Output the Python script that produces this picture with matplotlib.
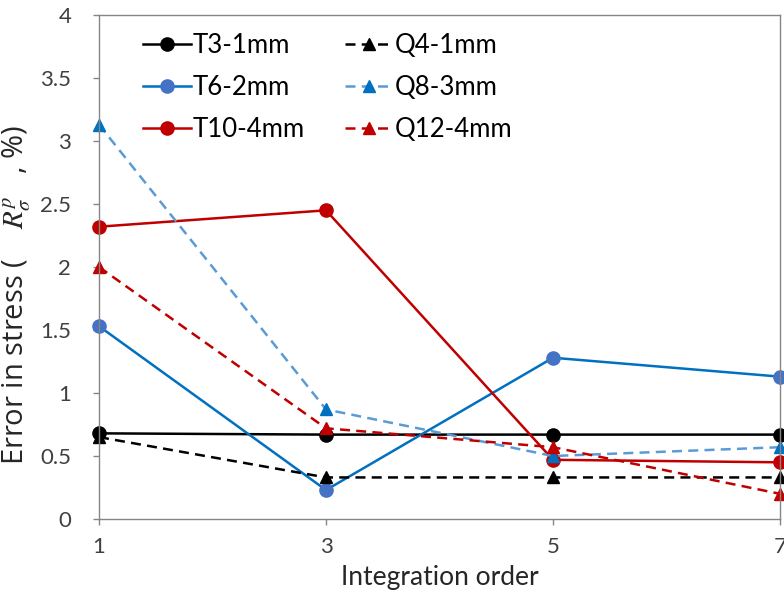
import matplotlib
matplotlib.use("Agg")
import matplotlib.pyplot as plt

# integration order on x
orders = [1, 3, 5, 7]

t3_1mm = [0.68, 0.67, 0.67, 0.67]
q4_1mm = [0.65, 0.33, 0.33, 0.33]
t6_2mm = [1.53, 0.23, 1.28, 1.13]
q8_3mm = [3.13, 0.87, 0.50, 0.57]
t10_4mm = [2.32, 2.45, 0.47, 0.45]
q12_4mm = [2.00, 0.72, 0.57, 0.20]

plt.rcParams['font.family'] = ['Lato', 'DejaVu Sans']
plt.rcParams['mathtext.fontset'] = 'stix'

fig = plt.figure(figsize=(7.84, 6.01), dpi=100)
ax = fig.add_axes([0.1263, 0.1364, 0.8686, 0.8386])

lw = 1.8
dash = (4, 2.5)
t_handles = []
t_handles += ax.plot(orders, t3_1mm, '-o', color='black', lw=lw, ms=9.5,
                     label='T3-1mm', clip_on=False)
t_handles += ax.plot(orders, t6_2mm, '-o', color='#0070C0', mfc='#4472C4',
                     mec='#4472C4', lw=lw, ms=9.5, label='T6-2mm', clip_on=False)
t_handles += ax.plot(orders, t10_4mm, '-o', color='#C00000', lw=lw, ms=9.5,
                     label='T10-4mm', clip_on=False)
q_handles = []
q_handles += ax.plot(orders, q4_1mm, '--^', color='black', lw=lw, ms=8,
                     dashes=dash, label='Q4-1mm', clip_on=False)
q_handles += ax.plot(orders, q8_3mm, '--^', color='#5B9BD5', mfc='#0070C0',
                     mec='#0070C0', lw=lw, ms=8, dashes=dash,
                     label='Q8-3mm', clip_on=False)
q_handles += ax.plot(orders, q12_4mm, '--^', color='#C00000', lw=lw, ms=8,
                     dashes=dash, label='Q12-4mm', clip_on=False)

ax.set_xlim(1, 7)
ax.set_ylim(0, 4)
ax.set_xticks(orders)
ax.set_yticks([0, 0.5, 1, 1.5, 2, 2.5, 3, 3.5, 4])
ax.set_yticklabels(['0', '0.5', '1', '1.5', '2', '2.5', '3', '3.5', '4'])

for s in ax.spines.values():
    s.set_color('#868686')
    s.set_linewidth(1.0)
ax.tick_params(axis='both', colors='#868686', labelcolor='#404040',
               labelsize=16, length=4, width=1.0, direction='out')
ax.tick_params(axis='x', pad=9)
ax.tick_params(axis='y', pad=16)

ax.set_xlabel('Integration order', fontsize=19, color='#262626', labelpad=6)
ax.set_ylabel(r'Error in stress (    $R_\sigma^p$   , %)', fontsize=21,
              color='#262626', family=['Open Sans', 'DejaVu Sans'])
ax.yaxis.set_label_coords(-0.097, 0.445)

legend_kw = dict(frameon=False, loc='upper left', fontsize=18.5,
                 handlelength=1.85, handletextpad=0.1, labelspacing=0.66,
                 borderpad=0, borderaxespad=0, bbox_transform=fig.transFigure)
leg1 = fig.legend(handles=t_handles, bbox_to_anchor=(143 / 784, 1 - 33 / 601),
                  **legend_kw)
leg2 = fig.legend(handles=q_handles, bbox_to_anchor=(345 / 784, 1 - 33 / 601),
                  **legend_kw)

fig.savefig('out.png', dpi=100)
